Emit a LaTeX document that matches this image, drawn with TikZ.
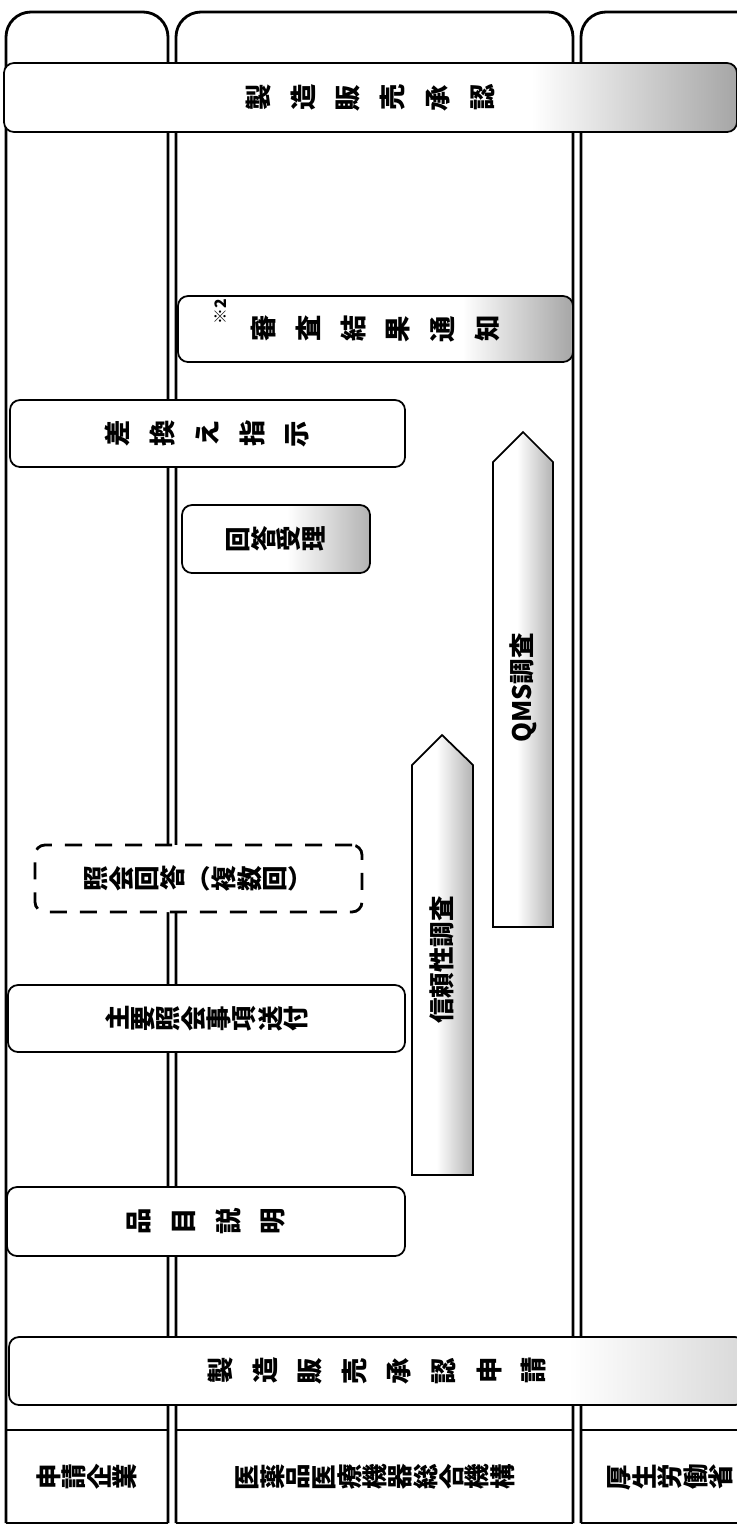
\documentclass[tikz,border=0pt]{standalone}
\usepackage{fontspec}
\setmainfont{Noto Sans CJK JP}
\usepackage{graphicx}
\usetikzlibrary{positioning}

\pgfdeclarehorizontalshading{fadelong}{100bp}{color(0bp)=(white); color(61bp)=(white); color(75bp)=(black!35); color(100bp)=(black!35)}
\pgfdeclarehorizontalshading{fadeshort}{100bp}{color(0bp)=(white); color(53bp)=(white); color(75bp)=(black!30); color(100bp)=(black!30)}
\pgfdeclarehorizontalshading{fadearrow}{100bp}{color(0bp)=(white); color(45bp)=(white); color(75bp)=(black!30); color(100bp)=(black!30)}
\pgfdeclarehorizontalshading{fadefaint}{100bp}{color(0bp)=(white); color(63bp)=(white); color(75bp)=(black!15); color(100bp)=(black!15)}

% one glyph turned a quarter left, then a row of them
\newcommand{\rch}[1]{\makebox[1em]{\rotatebox[origin=c]{90}{#1}}}
\newcommand{\rline}[2]{\foreach \zi [count=\k] in {#2}{\ifnum\k>1\hspace{#1}\fi\rch{\zi}}}

\begin{document}
\begin{tikzpicture}[x=0.2mm,y=-0.2mm,
  lane/.style={line width=1.6pt},
  box/.style={draw,line width=1pt,rounded corners=2mm,fill=white,inner sep=0pt},
  arrowbox/.style={draw,line width=1pt,shade,shading=fadearrow},
  spaced/.style={font=\bfseries\fontsize{15}{17}\selectfont},
  packed/.style={font=\bfseries\fontsize{14.5}{16}\selectfont}]
\useasboundingbox (0,0) rectangle (737,1526);
\clip (0,0) rectangle (737,1526);
% lanes
\draw[lane,rounded corners=5mm] (6,1523) |- (87,12) -| (168,1523);
\draw[lane,rounded corners=5mm] (176,1523) |- (375,12) -| (573,1523);
\draw[lane,rounded corners=5mm] (581,1523) |- (690,12) -| (800,1523);
\foreach \a/\b in {6/168,176/573,581/800}
  \draw[lane] (\a,1430) -- (\b,1430) (\a,1523) -- (\b,1523);

\node[box,shade,shading=fadelong,minimum width=146.6mm,minimum height=13.8mm,spaced] (approval) at (370.5,97.5) {\rline{10.5pt}{製,造,販,売,承,認}};
\node[box,shade,shading=fadelong,minimum width=79mm,minimum height=13.2mm,spaced] (notice) at (375.5,329) {\rline{10.5pt}{審,査,結,果,通,知}};
\node[rotate=90,font=\bfseries\fontsize{9}{10}\selectfont] (mark) at ([xshift=8.8mm,yshift=3.4mm]notice.west) {※2};
\node[box,minimum width=79mm,minimum height=13.4mm,spaced] (swap) at (207.5,433.5) {\rline{10.5pt}{差,換,え,指,示}};
\node[box,shade,shading=fadeshort,minimum width=37.6mm,minimum height=13.6mm,packed] (reply) at (276,539) {\rline{0pt}{回,答,受,理}};

% surveys
\draw[arrowbox] (493,927) -- (493,462) -- (523,432) -- (553,462) -- (553,927) -- cycle;
\node[packed,rotate=90] (qms) at (523,688) {QMS調査};
\draw[arrowbox] (412,1175) -- (412,765) -- (442,735) -- (473,765) -- (473,1175) -- cycle;
\node[packed,rotate=90] (gcp) at (442,960) {信頼性調査};

\node[box,dash pattern=on 3.4mm off 2.6mm,line width=1.6pt,minimum width=65.4mm,minimum height=13.4mm,packed] (answers) at (198.5,878.5) {\rline{0pt}{照,会,回,答}（\rline{0pt}{複,数,回}）};
\node[box,minimum width=79.4mm,minimum height=13.4mm,packed] (inquiry) at (206.5,1018.5) {\rline{0pt}{主,要,照,会,事,項,送,付}};
\node[box,minimum width=79.6mm,minimum height=13.8mm,spaced] (explain) at (206,1221.5) {\rline{10.5pt}{品,目,説,明}};
\node[box,shade,shading=fadefaint,minimum width=147.2mm,minimum height=13.6mm,spaced] (apply) at (377,1371) {\rline{10.5pt}{製,造,販,売,承,認,申,請}};

% lane names
\node[packed] (firm) at (87,1477) {\rline{0pt}{申,請,企,業}};
\node[packed] (pmda) at (375,1477) {\rline{0pt}{医,薬,品,医,療,機,器,総,合,機,構}};
\node[packed] (mhlw) at (670,1477) {\rline{0pt}{厚,生,労,働,省}};
\end{tikzpicture}
\end{document}
